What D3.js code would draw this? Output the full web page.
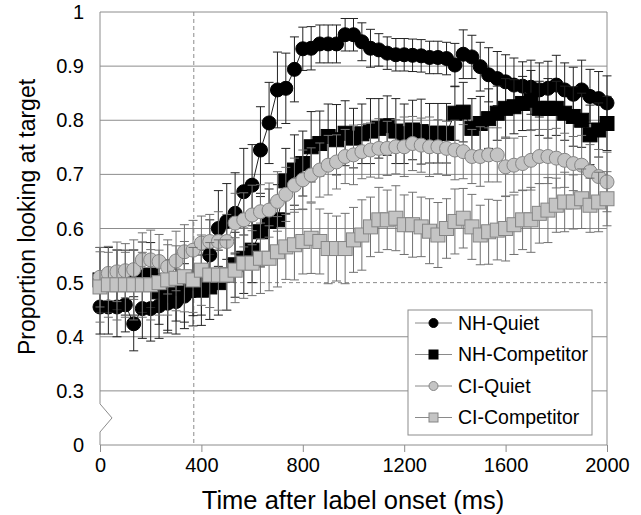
<!DOCTYPE html>
<html>
<head>
<meta charset="utf-8">
<script src="https://cdn.jsdelivr.net/npm/d3@7"></script>
<style>
	body { margin: 0; background: #fff; }
	text { font-family: 'Liberation Sans', Arial, sans-serif; fill: #000; }
</style>
</head>
<body>
<div class="chart-container"></div>
<script>
// time bins (ms after label onset)
const times = [0, 33, 67, 100, 133, 167, 200, 233, 267, 300, 333, 367, 400, 433, 467, 500, 533, 567, 600, 633,
	667, 700, 733, 767, 800, 833, 867, 900, 933, 967, 1000, 1033, 1067, 1100, 1133, 1167, 1200, 1233, 1267, 1300,
	1333, 1367, 1400, 1433, 1467, 1500, 1533, 1567, 1600, 1633, 1667, 1700, 1733, 1767, 1800, 1833, 1867, 1900,
	1933, 1967, 2000];

const nhQuiet = [0.455, 0.455, 0.455, 0.459, 0.424, 0.452, 0.452, 0.457, 0.462, 0.465,
	0.475, 0.485, 0.5, 0.551, 0.6, 0.613, 0.628, 0.668, 0.68, 0.745,
	0.795, 0.856, 0.859, 0.894, 0.932, 0.933, 0.941, 0.941, 0.941, 0.958,
	0.958, 0.945, 0.933, 0.93, 0.924, 0.921, 0.921, 0.92, 0.919, 0.916,
	0.916, 0.914, 0.902, 0.922, 0.917, 0.899, 0.884, 0.877, 0.871, 0.865,
	0.863, 0.861, 0.856, 0.859, 0.865, 0.856, 0.848, 0.856, 0.844, 0.84, 0.832];
const nhQuietErr = [0.05, 0.05, 0.055, 0.05, 0.05, 0.055, 0.06, 0.06, 0.055, 0.06,
	0.06, 0.065, 0.06, 0.065, 0.07, 0.07, 0.075, 0.08, 0.075, 0.08,
	0.075, 0.07, 0.065, 0.06, 0.04, 0.04, 0.035, 0.035, 0.035, 0.03,
	0.03, 0.035, 0.035, 0.03, 0.03, 0.03, 0.03, 0.03, 0.03, 0.03,
	0.03, 0.03, 0.04, 0.045, 0.04, 0.045, 0.05, 0.05, 0.05, 0.05,
	0.045, 0.05, 0.05, 0.05, 0.055, 0.05, 0.05, 0.055, 0.05, 0.05, 0.05];

const nhCompetitor = [0.505, 0.505, 0.505, 0.5, 0.5, 0.51, 0.514, 0.483, 0.477, 0.489,
	0.492, 0.499, 0.486, 0.492, 0.5, 0.514, 0.533, 0.545, 0.56, 0.594,
	0.613, 0.616, 0.688, 0.708, 0.72, 0.751, 0.757, 0.77, 0.764, 0.776,
	0.767, 0.775, 0.78, 0.785, 0.79, 0.78, 0.775, 0.782, 0.779, 0.776,
	0.776, 0.776, 0.813, 0.815, 0.785, 0.794, 0.803, 0.813, 0.822, 0.825,
	0.831, 0.837, 0.822, 0.822, 0.822, 0.813, 0.807, 0.8, 0.773, 0.782, 0.794];
const nhCompetitorErr = [0.06, 0.06, 0.055, 0.06, 0.06, 0.065, 0.06, 0.06, 0.065, 0.06,
	0.065, 0.06, 0.065, 0.06, 0.06, 0.065, 0.06, 0.065, 0.06, 0.065,
	0.06, 0.065, 0.06, 0.065, 0.06, 0.065, 0.06, 0.06, 0.065, 0.06,
	0.055, 0.055, 0.06, 0.055, 0.055, 0.06, 0.055, 0.055, 0.06, 0.055,
	0.055, 0.055, 0.05, 0.055, 0.055, 0.05, 0.055, 0.05, 0.055, 0.05,
	0.05, 0.055, 0.05, 0.055, 0.05, 0.05, 0.055, 0.05, 0.055, 0.05, 0.05];

const ciQuiet = [0.51, 0.517, 0.52, 0.522, 0.524, 0.542, 0.542, 0.539, 0.529, 0.54,
	0.557, 0.56, 0.573, 0.576, 0.576, 0.576, 0.61, 0.616, 0.625, 0.631,
	0.634, 0.65, 0.663, 0.68, 0.69, 0.699, 0.708, 0.717, 0.723, 0.733,
	0.736, 0.742, 0.745, 0.748, 0.748, 0.751, 0.751, 0.757, 0.754, 0.751,
	0.751, 0.748, 0.745, 0.742, 0.733, 0.733, 0.736, 0.736, 0.714, 0.717,
	0.72, 0.726, 0.733, 0.733, 0.73, 0.726, 0.72, 0.717, 0.705, 0.696, 0.686];
const ciQuietErr = [0.055, 0.05, 0.055, 0.05, 0.055, 0.05, 0.055, 0.05, 0.05, 0.055,
	0.05, 0.055, 0.05, 0.05, 0.055, 0.05, 0.055, 0.05, 0.055, 0.05,
	0.05, 0.055, 0.05, 0.05, 0.055, 0.05, 0.05, 0.055, 0.05, 0.05,
	0.055, 0.05, 0.05, 0.055, 0.05, 0.05, 0.055, 0.05, 0.05, 0.055,
	0.05, 0.05, 0.055, 0.05, 0.05, 0.055, 0.05, 0.05, 0.055, 0.05,
	0.05, 0.055, 0.05, 0.05, 0.055, 0.05, 0.05, 0.055, 0.05, 0.05, 0.055];

const ciCompetitor = [0.492, 0.496, 0.496, 0.496, 0.496, 0.496, 0.496, 0.5, 0.505, 0.508,
	0.511, 0.505, 0.523, 0.514, 0.514, 0.514, 0.523, 0.536, 0.536, 0.545,
	0.545, 0.557, 0.566, 0.57, 0.576, 0.582, 0.576, 0.563, 0.563, 0.563,
	0.579, 0.588, 0.603, 0.616, 0.616, 0.619, 0.607, 0.607, 0.603, 0.595,
	0.588, 0.6, 0.613, 0.619, 0.603, 0.588, 0.594, 0.597, 0.6, 0.607,
	0.616, 0.616, 0.628, 0.634, 0.643, 0.649, 0.649, 0.655, 0.643, 0.649, 0.655];
const ciCompetitorErr = [0.065, 0.06, 0.065, 0.06, 0.065, 0.06, 0.065, 0.06, 0.065, 0.06,
	0.065, 0.06, 0.065, 0.06, 0.065, 0.065, 0.06, 0.065, 0.06, 0.065,
	0.06, 0.065, 0.06, 0.065, 0.06, 0.065, 0.06, 0.065, 0.06, 0.065,
	0.06, 0.065, 0.055, 0.06, 0.055, 0.06, 0.055, 0.06, 0.055, 0.06,
	0.06, 0.055, 0.06, 0.055, 0.06, 0.055, 0.06, 0.055, 0.06, 0.055,
	0.055, 0.06, 0.055, 0.06, 0.05, 0.055, 0.05, 0.055, 0.05, 0.055, 0.05];

const seriesNames = ['NH-Quiet', 'NH-Competitor', 'CI-Quiet', 'CI-Competitor'];
const xTicks = [0, 400, 800, 1200, 1600, 2000];
const yTicks = [0.3, 0.4, 0.5, 0.6, 0.7, 0.8, 0.9, 1];
const yBreakValue = 0.2; // axis is broken: the "0" label sits where 0.2 would be
const gridValues = [0.3, 0.4, 0.6, 0.7, 0.8, 0.9];
const refValue = 0.5;
const onsetMs = 370;

let width = 641, height = 515;
let margin = { top: 12, right: 34, bottom: 70, left: 100 };

let svg = d3.select('.chart-container').append('svg')
	.attr('width', width).attr('height', height);

let x = d3.scaleLinear().domain([0, 2000]).range([margin.left, width - margin.right]);
let y = d3.scaleLinear().domain([yBreakValue, 1]).range([height - margin.bottom, margin.top]);

let series = [
	{ name: seriesNames[0], vals: nhQuiet, err: nhQuietErr, shape: 'circle', fill: '#000', stroke: '#000', line: '#222', bar: '#222' },
	{ name: seriesNames[1], vals: nhCompetitor, err: nhCompetitorErr, shape: 'square', fill: '#000', stroke: '#000', line: '#222', bar: '#222' },
	{ name: seriesNames[2], vals: ciQuiet, err: ciQuietErr, shape: 'circle', fill: '#c4c4c4', stroke: '#858585', line: '#858585', bar: '#707070' },
	{ name: seriesNames[3], vals: ciCompetitor, err: ciCompetitorErr, shape: 'square', fill: '#c4c4c4', stroke: '#858585', line: '#858585', bar: '#707070' }
];

// gridlines
svg.append('g').selectAll('line').data(gridValues).join('line')
	.attr('x1', x(0)).attr('x2', x(2000))
	.attr('y1', (d) => y(d)).attr('y2', (d) => y(d))
	.attr('stroke', '#8c8c8c').attr('stroke-width', 1);

svg.append('line')
	.attr('x1', x(0)).attr('x2', x(2000))
	.attr('y1', y(refValue)).attr('y2', y(refValue))
	.attr('stroke', '#8c8c8c').attr('stroke-width', 1).attr('stroke-dasharray', '4,3');

svg.append('line')
	.attr('x1', x(onsetMs)).attr('x2', x(onsetMs))
	.attr('y1', y(1)).attr('y2', y(yBreakValue))
	.attr('stroke', '#8c8c8c').attr('stroke-width', 1).attr('stroke-dasharray', '4,3');

// frame: top and right
svg.append('path')
	.attr('d', 'M' + x(0) + ',' + y(1) + 'H' + x(2000) + 'V' + y(yBreakValue))
	.attr('fill', 'none').attr('stroke', '#8c8c8c');

let xAxis = svg.append('g')
	.attr('transform', 'translate(0,' + y(yBreakValue) + ')')
	.call(d3.axisBottom(x).tickValues(xTicks).tickSize(7).tickPadding(6).tickFormat(d3.format('d')));
xAxis.select('.domain').attr('stroke', '#8c8c8c').attr('d', 'M' + x(0) + ',0H' + x(2000));
xAxis.selectAll('.tick line').attr('stroke', '#8c8c8c');
xAxis.selectAll('text').style('font-size', '20px').attr('fill', '#000');

// y axis with the break zig-zag between 0 and 0.3
svg.append('path')
	.attr('d', 'M' + x(0) + ',' + y(1) + 'V' + y(0.276) + 'L' + (x(0) + 12) + ',' + y(0.25) +
		'L' + x(0) + ',' + y(0.224) + 'V' + y(yBreakValue))
	.attr('fill', 'none').attr('stroke', '#8c8c8c');

let yLabels = svg.append('g').style('font-size', '20px').attr('text-anchor', 'end');
yLabels.selectAll('text.t').data(yTicks).join('text').attr('class', 't')
	.attr('x', x(0) - 16).attr('y', (d) => y(d)).attr('dy', '0.35em')
	.text((d) => d3.format('')(d));
yLabels.append('text')
	.attr('x', x(0) - 16).attr('y', y(yBreakValue)).attr('dy', '0.35em')
	.text('0');

// axis titles
svg.append('text')
	.attr('x', 353).attr('y', 509)
	.attr('text-anchor', 'middle').style('font-size', '25.5px')
	.text('Time after label onset (ms)');

svg.append('text')
	.attr('transform', 'translate(35,217) rotate(-90)')
	.attr('text-anchor', 'middle').style('font-size', '23px')
	.text('Proportion looking at target');

function drawMarker(sel, s, size) {
	if (s.shape === 'circle') {
		sel.append('circle').attr('r', size / 2);
	} else {
		sel.append('rect').attr('x', -size / 2).attr('y', -size / 2).attr('width', size).attr('height', size);
	}
	sel.selectAll('circle,rect').attr('fill', s.fill).attr('stroke', s.stroke).attr('stroke-width', 1);
}

let line = d3.line().x((d, i) => x(times[i])).y((d) => y(d));

series.forEach(function(s) {
	let g = svg.append('g');
	let bars = g.append('g').attr('stroke', s.bar).attr('stroke-width', 1);
	s.vals.forEach(function(v, i) {
		let cx = x(times[i]);
		let hi = y(v + s.err[i]), lo = y(v - s.err[i]);
		bars.append('line').attr('x1', cx).attr('x2', cx).attr('y1', hi).attr('y2', lo);
		bars.append('line').attr('x1', cx - 4.5).attr('x2', cx + 4.5).attr('y1', hi).attr('y2', hi);
		bars.append('line').attr('x1', cx - 4.5).attr('x2', cx + 4.5).attr('y1', lo).attr('y2', lo);
	});
	g.append('path').datum(s.vals).attr('d', line)
		.attr('fill', 'none').attr('stroke', s.line).attr('stroke-width', 1);
	s.vals.forEach(function(v, i) {
		let m = g.append('g').attr('transform', 'translate(' + x(times[i]) + ',' + y(v) + ')');
		drawMarker(m, s, 14);
	});
});

// legend
let legend = svg.append('g');
legend.append('rect')
	.attr('x', 408).attr('y', 310).attr('width', 184).attr('height', 125)
	.attr('fill', '#fff').attr('stroke', '#8c8c8c');
series.forEach(function(s, i) {
	let ly = 323 + i * 31.5;
	legend.append('line').attr('x1', 415).attr('x2', 452).attr('y1', ly).attr('y2', ly)
		.attr('stroke', '#8a8a8a').attr('stroke-width', 1);
	let m = legend.append('g').attr('transform', 'translate(433.5,' + ly + ')');
	drawMarker(m, s, 9);
	legend.append('text').attr('x', 458).attr('y', ly).attr('dy', '0.35em')
		.style('font-size', '19.5px').text(s.name);
});
</script>
</body>
</html>
